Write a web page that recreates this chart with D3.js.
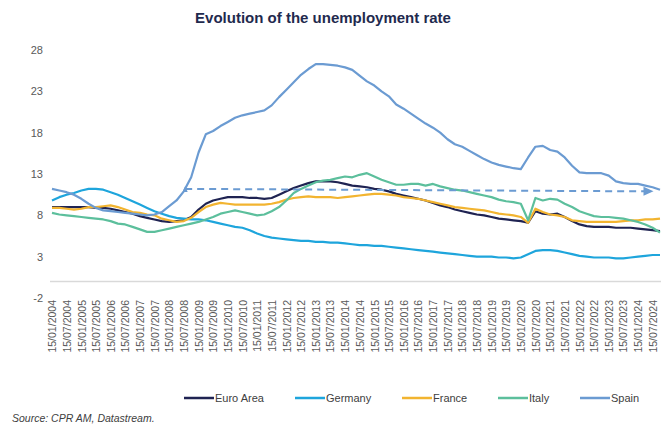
<!DOCTYPE html>
<html>
<head>
<meta charset="utf-8">
<script src="https://d3js.org/d3.v7.min.js"></script>
<style>
  body { margin: 0; background: #fff; }
  svg { font-family: "Liberation Sans", Arial, sans-serif; }
</style>
</head>
<body>
<div id="chart"></div>
<script>
// quarterly readings, Jan 2004 -> Oct 2024
const startDate = new Date(2004, 0, 15);
const endDate = new Date(2024, 9, 15);

const euroArea = [9.0, 9.0, 9.0, 9.0, 9.0, 9.0, 8.9, 8.9, 8.8, 8.6,
  8.4, 8.2, 7.9, 7.7, 7.5, 7.3, 7.2, 7.3, 7.4, 7.8,
  8.7, 9.4, 9.8, 10.0, 10.2, 10.2, 10.2, 10.1, 10.1, 10.0,
  10.1, 10.5, 10.9, 11.3, 11.6, 11.9, 12.1, 12.1, 12.1, 12.0,
  11.8, 11.6, 11.5, 11.4, 11.2, 11.1, 10.9, 10.6, 10.4, 10.2,
  10.0, 9.8, 9.5, 9.2, 9.0, 8.7, 8.5, 8.3, 8.1, 8.0,
  7.8, 7.6, 7.5, 7.4, 7.3, 7.1, 8.5, 8.2, 8.1, 8.2,
  7.8, 7.3, 6.9, 6.7, 6.6, 6.6, 6.6, 6.5, 6.5, 6.5,
  6.4, 6.3, 6.2, 6.1];

const germany = [9.8, 10.2, 10.5, 10.7, 11.0, 11.2, 11.2, 11.1, 10.8, 10.5,
  10.1, 9.7, 9.3, 8.9, 8.5, 8.2, 7.9, 7.7, 7.6, 7.5,
  7.5, 7.4, 7.2, 7.0, 6.8, 6.6, 6.5, 6.2, 5.8, 5.5,
  5.3, 5.2, 5.1, 5.0, 4.9, 4.9, 4.8, 4.8, 4.7, 4.7,
  4.6, 4.5, 4.4, 4.4, 4.3, 4.3, 4.2, 4.1, 4.0, 3.9,
  3.8, 3.7, 3.6, 3.5, 3.4, 3.3, 3.2, 3.1, 3.0, 3.0,
  3.0, 2.9, 2.9, 2.8, 2.9, 3.3, 3.7, 3.8, 3.8, 3.7,
  3.5, 3.3, 3.1, 3.0, 2.9, 2.9, 2.9, 2.8, 2.8, 2.9,
  3.0, 3.1, 3.2, 3.2];

const france = [8.9, 8.9, 8.8, 8.7, 8.8, 9.0, 9.0, 9.1, 9.2, 9.0,
  8.7, 8.4, 8.3, 8.1, 8.0, 7.6, 7.4, 7.2, 7.3, 7.7,
  8.4, 9.0, 9.3, 9.5, 9.4, 9.3, 9.3, 9.3, 9.3, 9.3,
  9.4, 9.6, 9.9, 10.1, 10.2, 10.3, 10.2, 10.2, 10.2, 10.1,
  10.2, 10.3, 10.4, 10.5, 10.6, 10.6, 10.5, 10.4, 10.2, 10.1,
  10.0, 9.8, 9.6, 9.4, 9.2, 9.0, 8.9, 8.8, 8.7, 8.6,
  8.4, 8.2, 8.1, 8.0, 7.8, 7.1, 8.8, 8.4, 8.1, 8.0,
  7.8, 7.4, 7.3, 7.2, 7.2, 7.2, 7.2, 7.2, 7.3, 7.4,
  7.4, 7.5, 7.5, 7.6];

const italy = [8.3, 8.1, 8.0, 7.9, 7.8, 7.7, 7.6, 7.5, 7.3, 7.0,
  6.9, 6.6, 6.3, 6.0, 6.0, 6.2, 6.4, 6.6, 6.8, 7.0,
  7.2, 7.5, 7.8, 8.2, 8.4, 8.6, 8.4, 8.2, 8.0, 8.1,
  8.5, 9.0, 9.8, 10.7, 11.2, 11.6, 12.0, 12.2, 12.3, 12.5,
  12.7, 12.6, 12.9, 13.1, 12.7, 12.3, 12.0, 11.7, 11.7, 11.8,
  11.8, 11.6, 11.8, 11.5, 11.3, 11.1, 11.0, 10.8, 10.6, 10.4,
  10.2, 9.9, 9.7, 9.6, 9.4, 7.4, 10.1, 9.8, 10.0, 9.9,
  9.4, 9.0, 8.5, 8.2, 7.9, 7.8, 7.8, 7.7, 7.6, 7.4,
  7.2, 6.9, 6.5, 5.9];

const spain = [11.2, 11.0, 10.8, 10.5, 10.0, 9.4, 8.9, 8.6, 8.5, 8.4,
  8.3, 8.2, 8.1, 8.0, 8.1, 8.4, 9.1, 9.8, 10.9, 12.6,
  15.6, 17.8, 18.2, 18.8, 19.3, 19.8, 20.1, 20.3, 20.5, 20.7,
  21.3, 22.3, 23.2, 24.1, 25.0, 25.7, 26.3, 26.3, 26.2, 26.1,
  25.9, 25.6, 24.9, 24.2, 23.7, 23.0, 22.4, 21.4, 20.9, 20.3,
  19.7, 19.1, 18.6, 18.0, 17.2, 16.6, 16.3, 15.8, 15.3, 14.8,
  14.4, 14.1, 13.9, 13.7, 13.6, 15.0, 16.3, 16.4, 15.9, 15.7,
  15.0, 14.0, 13.2, 13.1, 13.1, 13.1, 12.8, 12.1, 11.9, 11.8,
  11.8, 11.6, 11.4, 11.1];

const seriesNames = ["Euro Area", "Germany", "France", "Italy", "Spain"];
const seriesColors = ["#1f2352", "#1ea5dc", "#f2b430", "#5cbf9c", "#6b9bd2"];
const yTicks = [-2, 3, 8, 13, 18, 23, 28];

// dashed arrow: Spain level in mid-2008 carried forward
const arrowDates = [new Date(2008, 7, 1), new Date(2024, 6, 1)];
const arrowValues = [11.2, 10.9];

const dates = d3.range(euroArea.length).map(i => d3.timeMonth.offset(startDate, 3 * i));
const xTickDates = d3.range(42).map(i => d3.timeMonth.offset(startDate, 6 * i));

const W = 669, H = 429;
const svg = d3.select("#chart").append("svg")
    .attr("width", W)
    .attr("height", H);

const x = d3.scaleTime()
    .domain([startDate, endDate])
    .range([52, 660]);

const y = d3.scaleLinear()
    .domain([-2, 28])
    .range([298, 50]);

svg.append("text")
    .attr("x", 323)
    .attr("y", 23)
    .attr("text-anchor", "middle")
    .attr("font-size", 15)
    .attr("font-weight", "bold")
    .attr("fill", "#1f2a4e")
    .text("Evolution of the unemployment rate");

// y axis labels
svg.append("g")
    .attr("transform", "translate(43,0)")
    .call(d3.axisLeft(y).tickValues(yTicks).tickFormat(d => String(d)).tickSize(0).tickPadding(0))
    .call(g => g.select(".domain").remove())
    .call(g => g.selectAll("text")
        .attr("font-size", 11)
        .attr("font-family", "'Liberation Sans', Arial, sans-serif")
        .attr("fill", "#595959"));

// zero line
svg.append("line")
    .attr("x1", x(startDate) - 2)
    .attr("x2", x(endDate) + 1)
    .attr("y1", y(0))
    .attr("y2", y(0))
    .attr("stroke", "#d9d9d9")
    .attr("stroke-width", 1.5);

// x axis labels, rotated
svg.append("g")
    .attr("transform", "translate(0,300)")
    .call(d3.axisBottom(x).tickValues(xTickDates).tickFormat(d3.timeFormat("%d/%m/%Y")).tickSize(0))
    .call(g => g.select(".domain").remove())
    .call(g => g.selectAll("text")
        .attr("transform", "rotate(-90)")
        .attr("x", 0)
        .attr("y", 0)
        .attr("dx", 0)
        .attr("dy", "0.35em")
        .attr("text-anchor", "end")
        .attr("font-size", 10.5)
        .attr("font-family", "'Liberation Sans', Arial, sans-serif")
        .attr("fill", "#595959"));

const allSeries = [euroArea, germany, france, italy, spain];

const line = d3.line()
    .x((d, i) => x(dates[i]))
    .y(d => y(d));

svg.append("g")
    .selectAll("path")
    .data(allSeries)
    .join("path")
    .attr("d", d => line(d))
    .attr("fill", "none")
    .attr("stroke", (d, i) => seriesColors[i])
    .attr("stroke-width", 2.2)
    .attr("stroke-linejoin", "round");

// dashed arrow
const ax1 = x(arrowDates[0]), ay1 = y(arrowValues[0]);
const ax2 = x(arrowDates[1]), ay2 = y(arrowValues[1]);
svg.append("line")
    .attr("x1", ax1).attr("y1", ay1)
    .attr("x2", ax2 - 6).attr("y2", ay2)
    .attr("stroke", "#6b9bd2")
    .attr("stroke-width", 2)
    .attr("stroke-dasharray", "7,5");
svg.append("path")
    .attr("d", `M${ax2 + 2},${ay2} L${ax2 - 8},${ay2 - 4.5} L${ax2 - 8},${ay2 + 4.5} Z`)
    .attr("fill", "#6b9bd2");
svg.append("path")
    .attr("d", `M${ax1 - 2.5},${ay1 + 3} L${ax1},${ay1 - 3} L${ax1 + 2.5},${ay1 + 3} Z`)
    .attr("fill", "#6b9bd2");

// legend
const legendX = [184, 295, 402, 498, 580];
const legend = svg.append("g")
    .selectAll("g")
    .data(seriesNames)
    .join("g")
    .attr("transform", (d, i) => `translate(${legendX[i]},398)`);
legend.append("line")
    .attr("x1", 0).attr("x2", 30)
    .attr("stroke", (d, i) => seriesColors[i])
    .attr("stroke-width", 2.5);
legend.append("text")
    .attr("x", 31)
    .attr("dy", "0.35em")
    .attr("font-size", 11)
    .attr("fill", "#404040")
    .text(d => d);

svg.append("text")
    .attr("x", 12)
    .attr("y", 422)
    .attr("font-size", 10.5)
    .attr("font-style", "italic")
    .attr("fill", "#404040")
    .text("Source: CPR AM, Datastream.");
</script>
</body>
</html>
